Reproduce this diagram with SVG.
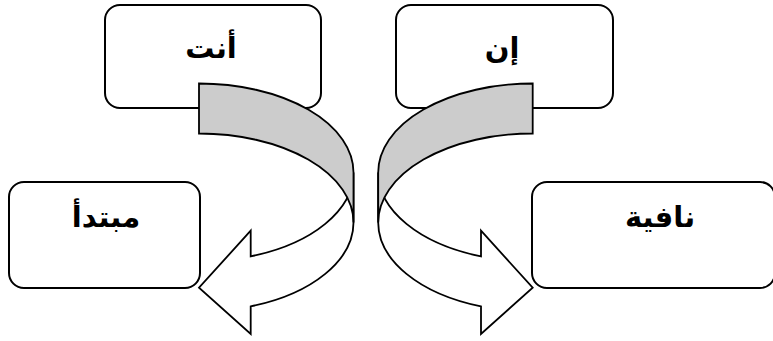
<svg xmlns="http://www.w3.org/2000/svg" width="773" height="341" viewBox="0 0 773 341">
<style>
.box{fill:#fff;stroke:#000;stroke-width:2}
.lbl{font-family:"DejaVu Sans",sans-serif;font-weight:bold;font-size:29px;text-anchor:middle;fill:#000}
.front{fill:#fff;stroke:#000;stroke-width:1.8;stroke-linejoin:miter}
.back{fill:#cccccc;stroke:#000;stroke-width:1.8;stroke-linejoin:miter}
</style>
<rect width="773" height="341" fill="#fff"/>
<g id="node-anta">
<rect class="box" x="105" y="5" width="216" height="103" rx="15"/>
<text class="lbl" x="211" y="58">أنت</text>
</g>
<g id="node-in">
<rect class="box" x="396" y="5" width="217" height="103" rx="15"/>
<text class="lbl" x="502" y="58">إن</text>
</g>
<g id="node-mubtada">
<rect class="box" x="9" y="182" width="191" height="106" rx="15"/>
<text class="lbl" x="106" y="227">مبتدأ</text>
</g>
<g id="node-nafia">
<rect class="box" x="532" y="182" width="243" height="106" rx="15"/>
<text class="lbl" x="660" y="227">نافية</text>
</g>
<g id="connectors">
<g id="arrow-left">
<path class="front" d="M353.5,172.5 A154.5,89 0 0 1 250.7,256.4 L250.7,230.7 L199,287.7 L250.7,334 L250.7,306.4 A154.5,89 0 0 0 353.5,222.5 Z"/>
<path class="back" d="M199,83.5 A154.5,89 0 0 1 353.5,172.5 L353.5,222.5 A154.5,89 0 0 0 199,133.5 Z"/>
</g>
<g id="arrow-right" transform="translate(731.7,0) scale(-1,1)">
<path class="front" d="M353.5,172.5 A154.5,89 0 0 1 250.7,256.4 L250.7,230.7 L199,287.7 L250.7,334 L250.7,306.4 A154.5,89 0 0 0 353.5,222.5 Z"/>
<path class="back" d="M199,83.5 A154.5,89 0 0 1 353.5,172.5 L353.5,222.5 A154.5,89 0 0 0 199,133.5 Z"/>
</g>
</g>
</svg>
